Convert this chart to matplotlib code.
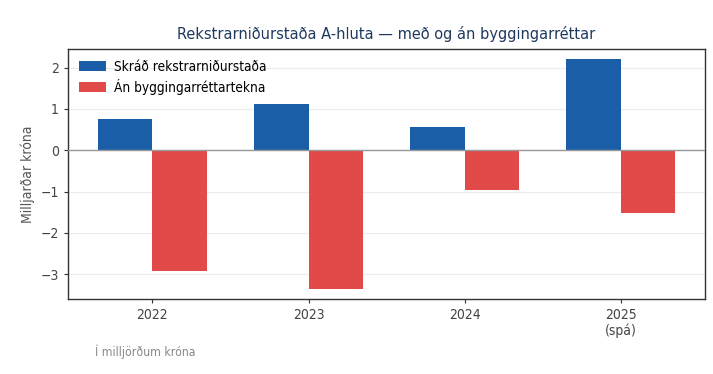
import numpy as np
import matplotlib.pyplot as plt

# --- Data (milljarðar króna) ---
years = ['2022', '2023', '2024', '2025\n(spá)']
skrad = [0.75, 1.13, 0.56, 2.20]
an_bygg = [-2.93, -3.35, -0.97, -1.51]

BLUE = '#1b5ea8'
RED = '#e24a4a'
BAR_W = 0.35

# the reference text is a bit narrower than plain DejaVu Sans
plt.rcParams['font.stretch'] = 'condensed'

fig = plt.figure(figsize=(7.13, 3.74), dpi=100)
ax = fig.add_axes([0.0954, 0.2005, 0.8936, 0.6685])

x = np.arange(len(years))
ax.bar(x - BAR_W / 2, skrad, BAR_W, color=BLUE, label='Skráð rekstrarniðurstaða', zorder=3)
ax.bar(x + BAR_W / 2, an_bygg, BAR_W, color=RED, label='Án byggingarréttartekna', zorder=3)

ax.axhline(0, color='#999999', linewidth=1.0, zorder=4)
ax.set_xlim(-0.54, 3.54)
ax.set_ylim(-3.6, 2.45)
ax.set_yticks([-3, -2, -1, 0, 1, 2])
ax.set_yticklabels(['\u22123', '\u22122', '\u22121', '0', '1', '2'])
ax.set_xticks(x)
ax.set_xticklabels(years, linespacing=1.1)
ax.yaxis.grid(True, color='#ececec', linewidth=0.8, zorder=0)

for s in ax.spines.values():
    s.set_color('#333333')
    s.set_linewidth(1.0)
ax.tick_params(axis='both', colors='#333333', labelcolor='#444444', labelsize=10, length=3)

ax.set_ylabel('Milljarðar króna', color='#555555', fontsize=10)
ax.set_title('Rekstrarniðurstaða A-hluta — með og án byggingarréttar',
             color='#1f3a5f', fontsize=11.7, pad=7)

ax.legend(loc='upper left', frameon=False, fontsize=9.8, handlelength=2.0,
          handletextpad=0.6, borderaxespad=0.4, labelspacing=0.35)

fig.text(0.133, 0.048, 'Í milljörðum króna', color='#888888', fontsize=8.8)

fig.savefig('out.png', dpi=100)
